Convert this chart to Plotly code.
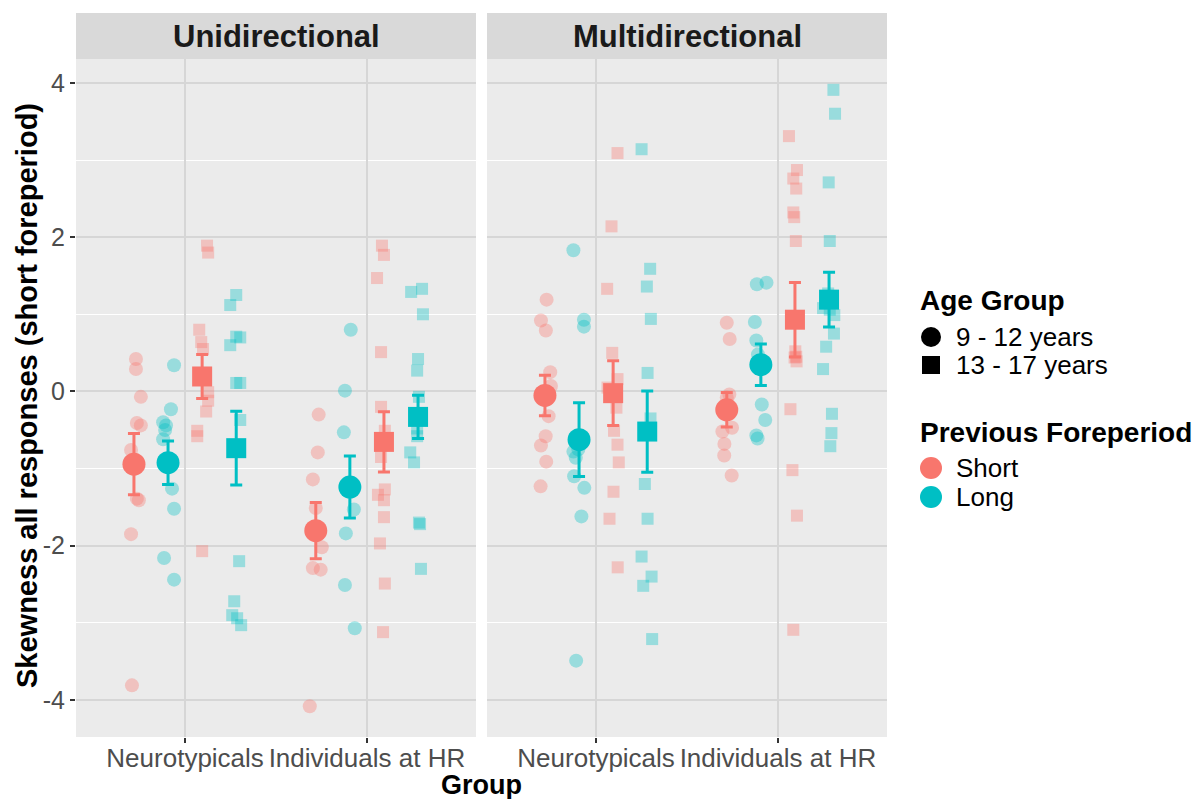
import numpy as np
import plotly.graph_objects as go

# ---------------- data ----------------
panels = ["Unidirectional", "Multidirectional"]
groups = ["Neurotypicals", "Individuals at HR"]
age_groups = ["9 - 12 years", "13 - 17 years"]
forepriods = ["Short", "Long"]

# Unidirectional - Neurotypicals
uni_nt_child_short = [0.42, 0.29, -0.07, -0.41, -0.44, -0.76, -1.39, -1.41, -1.85, -3.81]
uni_nt_child_long = [0.34, -0.23, -0.40, -0.44, -0.50, -0.62, -1.26, -1.52, -2.16, -2.44]
uni_nt_adol_short = [1.89, 1.80, 0.80, 0.64, 0.55, -0.01, -0.12, -0.26, -0.51, -0.58, -2.07, 0.22, 0.17]
uni_nt_adol_long = [1.25, 1.12, 0.71, 0.70, 0.60, 0.11, 0.11, -0.37, -2.20, -2.72, -2.90, -2.94, -3.03]
# Unidirectional - Individuals at HR
uni_hr_child_short = [-0.30, -0.79, -1.14, -1.51, -2.02, -2.29, -2.31, -4.08, -1.80]
uni_hr_child_long = [0.80, 0.01, -0.53, -1.53, -1.84, -2.51, -3.07, -1.24, -1.25]
uni_hr_adol_short = [1.89, 1.77, 1.47, 0.51, -0.20, -0.51, -0.85, -1.27, -1.34, -1.41, -1.63, -1.97, -2.49, -3.12, -0.66]
uni_hr_adol_long = [1.29, 1.33, 1.00, 0.42, 0.27, -0.07, -0.58, -0.79, -0.92, -1.70, -1.72, -2.30, -0.48, -0.35, -0.35]
# Multidirectional - Neurotypicals
multi_nt_child_short = [1.19, 0.92, 0.79, 0.25, 0.07, -0.32, -0.58, -0.70, -0.91, -1.23]
multi_nt_child_long = [1.83, 0.93, 0.84, -0.78, -0.86, -1.10, -1.25, -1.62, -3.49, -0.75]
multi_nt_adol_short = [3.09, 2.14, 1.33, 0.50, 0.16, 0.05, -0.21, -0.51, -0.69, -0.92, -1.30, -1.65, -2.28]
multi_nt_adol_long = [3.14, 1.59, 1.36, 0.94, 0.24, -0.35, -1.20, -1.65, -2.14, -2.40, -2.52, -3.21, -0.56]
# Multidirectional - Individuals at HR
multi_hr_child_short = [0.89, 0.68, -0.04, -0.52, -0.47, -0.68, -0.83, -1.09, -0.08]
multi_hr_child_long = [1.39, 1.41, 0.90, 0.66, 0.48, -0.17, -0.37, -0.57, -0.61]
multi_hr_adol_short = [3.31, 2.87, 2.76, 2.63, 2.32, 2.26, 1.95, 0.52, 0.39, 0.45, -0.23, -1.02, -1.61, -3.09, 0.44]
multi_hr_adol_long = [3.91, 3.60, 2.71, 1.95, 1.08, 1.06, 0.99, 0.75, 0.58, 0.29, -0.29, -0.54, -0.71, 1.20, 1.27]

# horizontal jitter of each point (category units)
jit_uni_nt_child_short = [0.011, 0.011, 0.038, 0.016, 0.038, -0.016, 0.016, 0.027, -0.016, -0.011]
jit_uni_nt_child_long = [0.033, 0.016, -0.027, -0.011, -0.016, -0.027, 0.022, 0.033, -0.022, 0.033]
jit_uni_nt_adol_short = [0.027, 0.033, -0.016, -0.005, 0.005, 0.033, 0.033, 0.022, -0.027, -0.027, 0.0, 0.011, -0.005]
jit_uni_nt_adol_long = [0.0, -0.033, 0.0, 0.022, -0.033, 0.0, 0.022, 0.022, 0.016, -0.011, -0.022, 0.005, 0.027]
jit_uni_hr_child_short = [0.016, 0.011, -0.016, 0.0, 0.033, -0.016, 0.027, -0.033, 0.0]
jit_uni_hr_child_long = [0.005, -0.027, -0.033, 0.022, -0.022, -0.027, 0.027, -0.005, 0.005]
jit_uni_hr_adol_short = [-0.011, 0.0, -0.038, -0.016, -0.016, 0.005, -0.016, 0.005, -0.033, 0.0, 0.0, -0.022, 0.005, -0.005, 0.005]
jit_uni_hr_adol_long = [-0.038, 0.022, 0.027, 0.0, -0.005, 0.005, -0.005, -0.043, -0.022, 0.005, 0.011, 0.016, -0.005, 0.005, -0.011]
jit_multi_nt_child_short = [0.009, -0.022, 0.005, 0.029, 0.033, 0.020, 0.004, -0.022, 0.007, -0.024]
jit_multi_nt_child_long = [-0.031, 0.027, 0.027, -0.031, -0.018, -0.027, 0.029, 0.013, -0.016, -0.004]
jit_multi_nt_adol_short = [0.024, -0.009, -0.033, -0.005, 0.024, -0.031, 0.018, 0.005, 0.024, 0.031, 0.002, -0.020, 0.025]
jit_multi_nt_adol_long = [-0.031, 0.016, -0.002, 0.020, 0.002, 0.018, -0.013, 0.002, -0.031, 0.024, -0.022, 0.027, 0.002]
jit_multi_hr_child_short = [0.0, 0.016, 0.014, -0.024, 0.029, -0.013, -0.014, 0.027, 0.0]
jit_multi_hr_child_long = [-0.022, 0.031, -0.033, -0.025, -0.016, 0.005, 0.024, -0.025, -0.018]
jit_multi_hr_adol_short = [-0.033, 0.011, -0.009, 0.007, -0.009, -0.004, 0.005, 0.002, 0.009, 0.007, -0.025, -0.014, 0.011, -0.009, -0.002]
jit_multi_hr_adol_long = [0.024, 0.033, -0.002, 0.004, -0.033, 0.004, 0.029, 0.027, -0.016, -0.033, 0.016, 0.013, 0.007, 0.0, -0.005]

# ---------------- styling ----------------
W, H = 1195, 799
COL = {"Short": "#F8766D", "Long": "#00BFC4"}
SYM = {"9 - 12 years": "circle", "13 - 17 years": "square"}
RAW_SIZE = {"circle": 14, "square": 12}
MEAN_SIZE = {"circle": 23, "square": 20}
FONT = "Liberation Sans, Arial, sans-serif"
GRID = "#D6D6D6"


def px(x):
    return x / W


def py(y):
    return 1 - y / H


data = {
    ("Unidirectional", "Neurotypicals"): [(uni_nt_child_short, jit_uni_nt_child_short), (uni_nt_child_long, jit_uni_nt_child_long),
                                          (uni_nt_adol_short, jit_uni_nt_adol_short), (uni_nt_adol_long, jit_uni_nt_adol_long)],
    ("Unidirectional", "Individuals at HR"): [(uni_hr_child_short, jit_uni_hr_child_short), (uni_hr_child_long, jit_uni_hr_child_long),
                                              (uni_hr_adol_short, jit_uni_hr_adol_short), (uni_hr_adol_long, jit_uni_hr_adol_long)],
    ("Multidirectional", "Neurotypicals"): [(multi_nt_child_short, jit_multi_nt_child_short), (multi_nt_child_long, jit_multi_nt_child_long),
                                            (multi_nt_adol_short, jit_multi_nt_adol_short), (multi_nt_adol_long, jit_multi_nt_adol_long)],
    ("Multidirectional", "Individuals at HR"): [(multi_hr_child_short, jit_multi_hr_child_short), (multi_hr_child_long, jit_multi_hr_child_long),
                                                (multi_hr_adol_short, jit_multi_hr_adol_short), (multi_hr_adol_long, jit_multi_hr_adol_long)],
}
subgroups = [(a, f) for a in age_groups for f in forepriods]
dodge = [(i - 1.5) * 0.75 / 4 for i in range(4)]

fig = go.Figure()
axes = {"Unidirectional": ("x", "y"), "Multidirectional": ("x2", "y2")}

# raw points
for p in panels:
    xa, ya = axes[p]
    for gi, g in enumerate(groups):
        for si, (a, f) in enumerate(subgroups):
            vals, jit = data[(p, g)][si]
            xs = [gi + 1 + dodge[si] + j for j in jit]
            sym = SYM[a]
            fig.add_trace(go.Scatter(
                x=xs, y=vals, mode="markers", xaxis=xa, yaxis=ya, showlegend=False,
                marker=dict(symbol=sym, size=RAW_SIZE[sym], color=COL[f], opacity=0.35, line=dict(width=0)),
                hoverinfo="skip"))

# means with standard errors
for p in panels:
    xa, ya = axes[p]
    for gi, g in enumerate(groups):
        for si, (a, f) in enumerate(subgroups):
            vals, _ = data[(p, g)][si]
            v = np.array(vals)
            m = v.mean()
            se = v.std(ddof=1) / np.sqrt(len(v))
            sym = SYM[a]
            fig.add_trace(go.Scatter(
                x=[gi + 1 + dodge[si]], y=[m], mode="markers", xaxis=xa, yaxis=ya, showlegend=False,
                marker=dict(symbol=sym, size=MEAN_SIZE[sym], color=COL[f], line=dict(width=0)),
                error_y=dict(type="data", array=[se], color=COL[f], thickness=3, width=6),
                hoverinfo="skip"))

all_vals = np.concatenate([np.array(v) for k in data for v, _ in data[k]])
lo, hi = all_vals.min(), all_vals.max()
pad = (hi - lo) * 0.05
yrange = [lo - pad, hi + pad]

PL, PR = 76, 476
PL2, PR2 = 487, 887
PT, PB = 59, 737
ydom = [py(PB), py(PT)]

xcommon = dict(range=[0.4, 2.6], tickmode="array", tickvals=[1, 2], ticktext=groups,
               showgrid=True, gridcolor=GRID, gridwidth=2, zeroline=False, showline=False,
               ticks="outside", ticklen=5, tickwidth=1.5, tickcolor="#333333",
               tickfont=dict(family=FONT, size=26, color="#4D4D4D"), ticklabelstandoff=-7)
ycommon = dict(range=yrange, tickmode="array", tickvals=[-4, -2, 0, 2, 4], ticktext=["-4", "-2", "0", "2", "4"],
               showgrid=True, gridcolor=GRID, gridwidth=2, zeroline=False, showline=False,
               minor=dict(tickvals=[-3, -1, 1, 3], showgrid=True, gridcolor="white", gridwidth=1, ticks=""),
               domain=ydom)

fig.update_layout(
    width=W, height=H, margin=dict(l=0, r=0, t=0, b=0),
    paper_bgcolor="white", plot_bgcolor="#EBEBEB", showlegend=False,
    xaxis=dict(domain=[px(PL), px(PR)], anchor="y", **xcommon),
    xaxis2=dict(domain=[px(PL2), px(PR2)], anchor="y2", **xcommon),
    yaxis=dict(anchor="x", ticks="outside", ticklen=5, tickwidth=1.5, tickcolor="#333333",
               tickfont=dict(family=FONT, size=25, color="#4D4D4D"), ticklabelstandoff=0, **ycommon),
    yaxis2=dict(anchor="x2", matches="y", showticklabels=False, ticks="", **ycommon),
)

shapes = []
annotations = []
# facet strips
for (l, r), name in zip([(PL, PR), (PL2, PR2)], panels):
    shapes.append(dict(type="rect", xref="paper", yref="paper", x0=px(l), x1=px(r), y0=py(PT), y1=py(13),
                       fillcolor="#D9D9D9", line=dict(width=0), layer="below"))
    annotations.append(dict(text="<b>%s</b>" % name, xref="paper", yref="paper", x=px((l + r) / 2), y=py(37),
                            xanchor="center", yanchor="middle", showarrow=False,
                            font=dict(family=FONT, size=31, color="#1A1A1A")))

# axis titles
annotations.append(dict(text="<b>Group</b>", xref="paper", yref="paper", x=px((PL + PR2) / 2), y=py(785),
                        xanchor="center", yanchor="middle", showarrow=False,
                        font=dict(family=FONT, size=27, color="black")))
annotations.append(dict(text="<b>Skewness all responses (short foreperiod)</b>", xref="paper", yref="paper",
                        x=px(27), y=py((PT + PB) / 2 - 2), textangle=-90, xanchor="center", yanchor="middle",
                        showarrow=False, font=dict(family=FONT, size=29, color="black")))

# legend (manual, ggplot style)
LX = 918
annotations.append(dict(text="<b>Age Group</b>", xref="paper", yref="paper", x=px(LX), y=py(300),
                        xanchor="left", yanchor="middle", showarrow=False,
                        font=dict(family=FONT, size=28, color="black")))
annotations.append(dict(text="<b>Previous Foreperiod</b>", xref="paper", yref="paper", x=px(LX), y=py(432),
                        xanchor="left", yanchor="middle", showarrow=False,
                        font=dict(family=FONT, size=28, color="black")))
legend_items = [
    ("9 - 12 years", 337, "circle", "black", 20),
    ("13 - 17 years", 365, "square", "black", 18),
    ("Short", 468, "circle", COL["Short"], 22),
    ("Long", 497, "circle", COL["Long"], 22),
]
for label, yc, shp, col, sz in legend_items:
    cx = 931
    if shp == "circle":
        shapes.append(dict(type="circle", xref="paper", yref="paper", x0=px(cx - sz / 2), x1=px(cx + sz / 2),
                           y0=py(yc + sz / 2), y1=py(yc - sz / 2), fillcolor=col, line=dict(width=0)))
    else:
        shapes.append(dict(type="rect", xref="paper", yref="paper", x0=px(cx - sz / 2), x1=px(cx + sz / 2),
                           y0=py(yc + sz / 2), y1=py(yc - sz / 2), fillcolor=col, line=dict(width=0)))
    annotations.append(dict(text=label, xref="paper", yref="paper", x=px(954), y=py(yc),
                            xanchor="left", yanchor="middle", showarrow=False,
                            font=dict(family=FONT, size=26, color="black")))

fig.update_layout(shapes=shapes, annotations=annotations)
fig.write_html("out.html", config={"displayModeBar": False},
               post_script="document.body.style.margin='0';document.body.style.overflow='hidden';")
